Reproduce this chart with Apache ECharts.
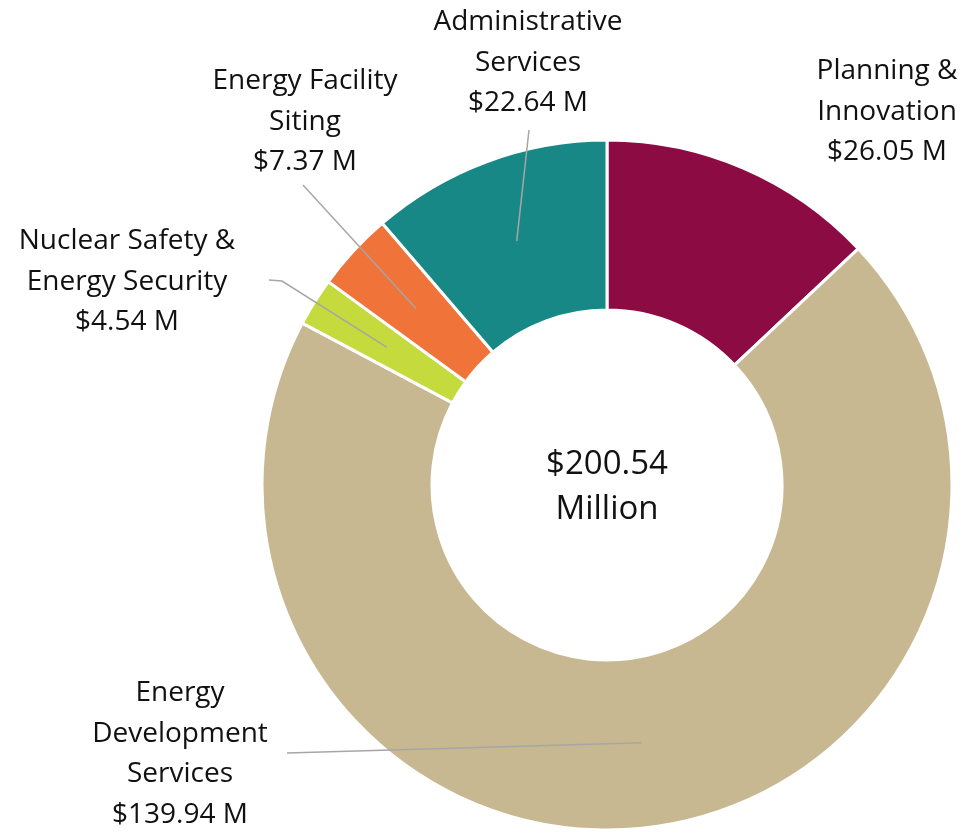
<!DOCTYPE html>
<html>
<head>
<meta charset="utf-8">
<script src="https://cdn.jsdelivr.net/npm/echarts@6/dist/echarts.min.js"></script>
<style>
  html, body { margin: 0; padding: 0; background: #fff; }
  #chart { width: 965px; height: 832px; }
</style>
</head>
<body>
<div id="chart"></div>
<script>
// budget split, clockwise from 12 o'clock
const names = [
  'Planning &\nInnovation',
  'Energy\nDevelopment\nServices',
  'Nuclear Safety &\nEnergy Security',
  'Energy Facility\nSiting',
  'Administrative\nServices'
];
const values = [26.05, 139.94, 4.54, 7.37, 22.64];
const colors = ['#8B0B42', '#C7B891', '#C5DA3C', '#F0743A', '#178885'];
const totalText = ['$200.54', 'Million'];

// layout (pixels)
const cx = 607, cy = 485, rIn = 175, rOut = 345;
// where each label block is centred, and where its leader line ends
const labelPos = [[887, 112], [180, 754], [127, 282], [305, 122], [528, 63]];
const lineEnd = [null, [[287, 753], [287, 753]], [[282, 281], [269, 280]], [[303, 185], [303, 185]], [[529, 130], [529, 130]]];

const total = values.reduce((a, b) => a + b, 0);
// anchor of the leader line: mid angle of slice, mid of ring
function anchor(i) {
  let before = 0;
  for (let k = 0; k < i; k++) before += values[k];
  const a = (before + values[i] / 2) / total * Math.PI * 2;
  const r = (rIn + rOut) / 2;
  return [cx + r * Math.sin(a), cy - r * Math.cos(a)];
}

const FONT = '"Open Sans"';

const chart = echarts.init(document.getElementById('chart'));
chart.setOption({
  animation: false,
  textStyle: { fontFamily: FONT },
  graphic: [{
    type: 'text',
    x: cx, y: cy + 2,
    z: 10,
    style: {
      text: totalText.join('\n'),
      x: 0, y: 0,
      align: 'center', verticalAlign: 'middle',
      font: '33px ' + FONT,
      lineHeight: 45,
      fill: '#111'
    }
  }],
  series: [
    {
      // the ring itself
      type: 'pie',
      center: [cx, cy],
      radius: [rIn, rOut],
      startAngle: 90,
      clockwise: true,
      silent: true,
      itemStyle: { borderColor: '#fff', borderWidth: 3 },
      label: { show: false },
      labelLine: { show: false },
      data: names.map((n, i) => ({ name: n, value: values[i], itemStyle: { color: colors[i] } }))
    },
    {
      // transparent copy on top, only carries labels + leader lines
      type: 'pie',
      z: 5,
      center: [cx, cy],
      radius: [rIn, rOut],
      startAngle: 90,
      clockwise: true,
      silent: true,
      itemStyle: { color: 'rgba(0,0,0,0)', borderWidth: 0 },
      label: {
        show: true,
        position: 'outside',
        formatter: p => p.name + '\n$' + p.value.toFixed(2) + ' M',
        fontSize: 28,
        lineHeight: 40.5,
        color: '#111',
        fontFamily: FONT
      },
      labelLine: {
        show: true,
        lineStyle: { color: '#a6a6a6', width: 1.5 }
      },
      labelLayout: function (params) {
        const i = params.dataIndex;
        const res = {
          x: labelPos[i][0],
          y: labelPos[i][1],
          align: 'center',
          verticalAlign: 'middle'
        };
        if (lineEnd[i]) {
          res.labelLinePoints = [anchor(i), lineEnd[i][0], lineEnd[i][1]];
        }
        return res;
      },
      data: names.map((n, i) => ({
        name: n,
        value: values[i],
        labelLine: { show: !!lineEnd[i] }
      }))
    }
  ]
});
</script>
</body>
</html>
